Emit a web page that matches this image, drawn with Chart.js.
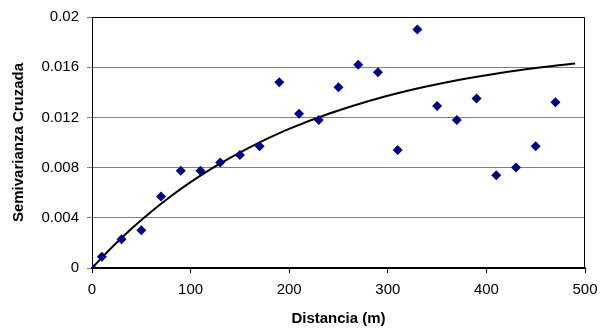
<!DOCTYPE html>
<html>
<head>
<meta charset="utf-8">
<script src="https://cdn.jsdelivr.net/npm/chart.js@4"></script>
<style>
html,body{margin:0;padding:0;background:#fff;}
#wrap{width:610px;height:331px;}
</style>
</head>
<body>
<div id="wrap"><canvas id="c" width="610" height="331"></canvas></div>
<script>
// Experimental cross-semivariogram points
const lags = [0, 10, 30, 50, 70, 90, 110, 130, 150, 170, 190, 210, 230, 250, 270, 290, 310, 330, 350, 370, 390, 410, 430, 450, 470];
const semivar = [0, 0.0009, 0.0023, 0.0030, 0.0057, 0.00775, 0.00775, 0.0084, 0.0090, 0.0097, 0.0148, 0.0123, 0.0118, 0.0144, 0.0162, 0.0156, 0.0094, 0.0190, 0.0129, 0.0118, 0.0135, 0.0074, 0.0080, 0.0097, 0.0132];
// Fitted model curve
const modelX = [0, 20, 40, 60, 80, 100, 120, 140, 160, 180, 200, 240, 280, 320, 360, 400, 440, 490];
const modelY = [0, 0.00164, 0.00313, 0.00449, 0.00572, 0.00684, 0.00786, 0.00878, 0.00962, 0.01039, 0.01109, 0.01229, 0.01329, 0.01412, 0.0148, 0.01536, 0.01583, 0.0163];
// Tick labels
const xTicks = [0, 100, 200, 300, 400, 500];
const yTicks = [0, 0.004, 0.008, 0.012, 0.016, 0.02];

const FONT = '"Liberation Sans", Arial, sans-serif';

const borderPlugin = {
  id: 'plotBorder',
  afterDraw(chart) {
    const a = chart.chartArea, ctx = chart.ctx;
    ctx.save();
    ctx.strokeStyle = '#000';
    ctx.lineWidth = 1;
    ctx.beginPath();
    ctx.moveTo(a.left, a.top + 0.5);
    ctx.lineTo(a.right - 0.5, a.top + 0.5);
    ctx.lineTo(a.right - 0.5, a.bottom);
    ctx.stroke();
    ctx.restore();
  }
};

new Chart(document.getElementById('c'), {
  type: 'scatter',
  data: {
    datasets: [
      {
        label: 'Modelo',
        data: modelX.map((x, i) => ({x: x, y: modelY[i]})),
        showLine: true,
        borderColor: '#000',
        borderWidth: 2,
        pointRadius: 0,
        tension: 0.4,
        cubicInterpolationMode: 'monotone',
        fill: false,
        order: 2
      },
      {
        label: 'Experimental',
        data: lags.map((x, i) => ({x: x, y: semivar[i]})),
        pointStyle: 'rectRot',
        pointRadius: 5,
        pointHoverRadius: 5,
        backgroundColor: '#000080',
        borderColor: '#000080',
        borderWidth: 0,
        order: 1
      }
    ]
  },
  options: {
    responsive: false,
    animation: false,
    devicePixelRatio: 1,
    layout: {padding: {left: 0, right: 25, top: 15, bottom: 0}},
    plugins: {legend: {display: false}, tooltip: {enabled: false}},
    scales: {
      x: {
        type: 'linear',
        min: 0, max: 500,
        afterBuildTicks: s => { s.ticks = xTicks.map(v => ({value: v})); },
        afterFit: s => { s.height = 63; },
        grid: {display: true, drawOnChartArea: false, drawTicks: true, tickLength: 5, color: '#000'},
        border: {display: true, color: '#000', width: 2},
        ticks: {color: '#000', font: {family: FONT, size: 15}, padding: 8, maxRotation: 0,
          callback: v => String(v)},
        title: {display: true, text: 'Distancia (m)', color: '#000',
          font: {family: FONT, size: 15, weight: 'bold'}, padding: {top: 0, bottom: 3}}
      },
      y: {
        type: 'linear',
        min: 0, max: 0.02,
        afterBuildTicks: s => { s.ticks = yTicks.map(v => ({value: v})); },
        afterFit: s => { s.width = 92; },
        grid: {display: true, drawTicks: true, tickLength: 5, color: '#808080', lineWidth: 1},
        border: {display: true, color: '#000', width: 1},
        ticks: {color: '#000', font: {family: FONT, size: 15}, padding: 8,
          callback: v => String(Number(v.toFixed(3)))},
        title: {display: true, text: 'Semivarianza Cruzada', color: '#000',
          font: {family: FONT, size: 15, weight: 'bold'}, padding: {top: 10, bottom: 0}}
      }
    }
  },
  plugins: [borderPlugin]
});
</script>
</body>
</html>
